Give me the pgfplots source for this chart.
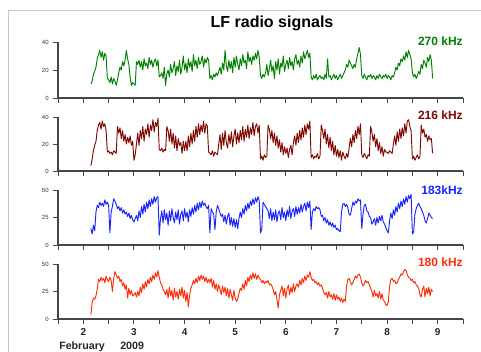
\documentclass[border=0pt]{standalone}
\usepackage{fontspec}
\setmainfont{Liberation Sans}
\usepackage{pgfplots}
\pgfplotsset{compat=1.18}
\usepackage{pgfplotstable}

\definecolor{cgreen}{RGB}{0,128,0}
\definecolor{cmaroon}{RGB}{128,8,0}
\definecolor{cblue}{RGB}{25,35,250}
\definecolor{cred}{RGB}{255,45,10}
\definecolor{axgray}{RGB}{70,70,70}

% 270 kHz
\pgfplotstableread[row sep=\\]{y\\
10\\12\\17\\19\\22\\28\\31\\34\\29\\33\\27\\32\\30\\14\\13\\11\\15\\10\\14\\12\\9\\13\\
18\\22\\20\\26\\23\\27\\34\\28\\24\\15\\9\\11\\10\\9\\26\\24\\
27\\22\\26\\20\\28\\23\\25\\21\\29\\24\\27\\22\\26\\28\\23\\27\\15\\
16\\18\\14\\22\\9\\17\\20\\15\\24\\18\\21\\26\\16\\23\\19\\27\\17\\22\\30\\20\\25\\18\\28\\22\\26\\19\\31\\23\\27\\21\\29\\24\\26\\30\\22\\28\\25\\29\\27\\
14\\16\\13\\17\\15\\18\\16\\
19\\22\\17\\25\\20\\34\\23\\19\\27\\21\\26\\18\\29\\22\\30\\24\\20\\28\\23\\31\\25\\27\\21\\33\\26\\29\\24\\30\\27\\32\\28\\34\\29\\
16\\14\\17\\15\\
18\\24\\16\\21\\27\\19\\23\\14\\26\\20\\28\\17\\25\\22\\30\\19\\24\\27\\21\\29\\23\\26\\20\\28\\31\\24\\27\\22\\30\\25\\33\\28\\31\\34\\29\\32\\
15\\13\\16\\14\\17\\13\\15\\16\\14\\15\\13\\17\\14\\28\\15\\16\\13\\15\\17\\14\\16\\13\\15\\17\\14\\16\\18\\
20\\24\\22\\27\\25\\23\\21\\24\\22\\28\\32\\36\\31\\
16\\14\\17\\15\\13\\16\\15\\17\\14\\16\\15\\13\\16\\14\\17\\15\\14\\16\\15\\17\\14\\16\\15\\13\\16\\15\\
18\\22\\20\\25\\23\\28\\26\\30\\27\\33\\29\\34\\31\\28\\
18\\15\\17\\14\\16\\19\\
17\\24\\21\\27\\25\\22\\29\\26\\31\\27\\14\\
}\greendata

% 216 kHz
\pgfplotstableread[row sep=\\]{y\\
4\\9\\15\\19\\22\\30\\34\\36\\31\\37\\33\\35\\30\\14\\
15\\13\\14\\12\\15\\14\\13\\33\\
28\\32\\24\\30\\22\\27\\20\\25\\21\\26\\19\\22\\8\\12\\
20\\28\\19\\30\\24\\33\\22\\31\\27\\35\\25\\34\\30\\38\\29\\36\\33\\39\\
16\\15\\17\\14\\16\\15\\33\\
30\\22\\31\\20\\28\\17\\26\\15\\24\\19\\21\\13\\22\\15\\
22\\15\\26\\18\\28\\20\\30\\22\\33\\25\\35\\27\\34\\29\\37\\28\\35\\33\\14\\
13\\12\\15\\11\\14\\13\\12\\
20\\27\\16\\28\\19\\30\\21\\17\\27\\20\\29\\18\\26\\31\\20\\28\\21\\30\\23\\33\\22\\31\\25\\34\\24\\32\\27\\36\\26\\33\\35\\28\\34\\
9\\11\\8\\12\\10\\11\\34\\
31\\24\\30\\21\\28\\19\\26\\17\\23\\14\\21\\12\\18\\
13\\17\\10\\16\\19\\12\\21\\
26\\19\\28\\21\\30\\23\\32\\25\\34\\27\\35\\31\\37\\
10\\12\\9\\11\\10\\13\\9\\11\\34\\
30\\24\\31\\20\\27\\17\\25\\15\\22\\12\\19\\11\\16\\10\\15\\8\\14\\11\\9\\13\\10\\
17\\24\\18\\27\\21\\30\\24\\33\\27\\35\\
12\\10\\13\\11\\9\\12\\11\\33\\
29\\22\\27\\18\\24\\15\\21\\13\\18\\11\\16\\14\\
14\\13\\15\\14\\13\\
20\\26\\19\\29\\22\\31\\24\\32\\26\\35\\28\\37\\38\\33\\30\\
9\\11\\8\\10\\12\\9\\11\\34\\
28\\31\\25\\27\\22\\26\\23\\24\\13\\
}\maroondata

% 183 kHz
\pgfplotstableread[row sep=\\]{y\\
15\\10\\18\\13\\30\\36\\34\\39\\36\\38\\35\\41\\37\\39\\36\\11\\30\\35\\42\\
40\\37\\33\\35\\31\\34\\29\\32\\28\\30\\26\\29\\24\\27\\23\\21\\24\\
27\\22\\31\\25\\35\\28\\37\\30\\39\\33\\41\\35\\42\\37\\44\\39\\43\\44\\9\\
24\\31\\20\\32\\23\\29\\18\\31\\22\\33\\25\\20\\30\\23\\32\\19\\28\\31\\22\\33\\25\\30\\21\\32\\26\\34\\28\\36\\30\\38\\32\\39\\34\\40\\36\\
38\\35\\33\\36\\11\\33\\30\\28\\14\\30\\36\\33\\29\\26\\
28\\21\\27\\19\\26\\29\\18\\25\\17\\24\\16\\23\\15\\
24\\30\\25\\33\\28\\36\\31\\38\\33\\40\\36\\42\\37\\43\\39\\44\\40\\
11\\14\\39\\37\\35\\33\\
31\\24\\33\\22\\30\\23\\32\\21\\29\\31\\23\\34\\25\\30\\22\\32\\26\\35\\24\\31\\33\\26\\35\\28\\34\\29\\37\\30\\35\\38\\31\\39\\34\\40\\
14\\30\\33\\31\\35\\33\\34\\
32\\26\\27\\22\\25\\20\\23\\18\\21\\17\\20\\16\\18\\14\\15\\13\\12\\
30\\37\\38\\35\\37\\34\\28\\27\\33\\39\\36\\40\\38\\42\\40\\41\\15\\
28\\36\\37\\31\\30\\26\\25\\19\\21\\24\\18\\25\\20\\26\\22\\27\\21\\19\\16\\13\\11\\
22\\29\\24\\32\\27\\35\\30\\38\\33\\40\\35\\42\\37\\44\\39\\45\\42\\46\\10\\12\\
28\\33\\36\\38\\35\\33\\30\\27\\22\\20\\24\\29\\27\\25\\24\\
}\bluedata

% 180 kHz
\pgfplotstableread[row sep=\\]{y\\
4\\15\\19\\18\\21\\27\\
36\\34\\38\\35\\37\\33\\39\\36\\34\\38\\35\\25\\37\\43\\
40\\37\\39\\34\\36\\30\\33\\27\\31\\19\\28\\22\\26\\21\\22\\24\\20\\
25\\21\\29\\24\\32\\27\\34\\29\\36\\32\\38\\34\\40\\36\\42\\38\\44\\
38\\33\\31\\27\\25\\22\\
27\\19\\29\\21\\26\\17\\28\\20\\25\\18\\27\\21\\29\\19\\26\\16\\24\\11\\22\\28\\
31\\35\\32\\37\\33\\39\\35\\40\\36\\39\\34\\38\\33\\36\\
33\\37\\29\\35\\27\\32\\25\\31\\27\\22\\30\\24\\29\\21\\28\\19\\27\\22\\17\\26\\19\\16\\18\\
23\\28\\26\\32\\27\\35\\30\\38\\34\\40\\36\\42\\37\\41\\36\\40\\37\\
36\\33\\35\\32\\34\\33\\35\\31\\32\\30\\27\\22\\25\\18\\10\\22\\
26\\30\\21\\28\\19\\27\\31\\22\\29\\24\\32\\25\\30\\32\\
29\\35\\31\\37\\33\\39\\35\\40\\38\\43\\
38\\35\\36\\33\\34\\31\\33\\30\\31\\28\\24\\22\\
24\\19\\25\\20\\22\\18\\23\\17\\22\\18\\20\\16\\19\\15\\18\\16\\
30\\36\\37\\34\\31\\33\\36\\39\\37\\40\\41\\38\\
33\\30\\32\\35\\33\\34\\31\\28\\
25\\20\\26\\21\\23\\19\\25\\18\\23\\17\\16\\13\\12\\16\\
30\\36\\37\\34\\35\\32\\33\\36\\38\\41\\40\\43\\45\\44\\
40\\38\\37\\35\\36\\33\\34\\31\\
30\\28\\22\\20\\27\\30\\20\\28\\23\\29\\21\\27\\25\\
}\reddata

\pgfplotsset{panel/.style={
  scale only axis, width=303.75pt,
  xmin=1.5, xmax=9.5, ymin=0,
  axis x line=bottom, axis y line=left,
  axis line style={-, draw=axgray, line width=0.8pt},
  xtick={2,...,9}, minor xtick={1.5,2.5,...,9.5},
  tick align=outside, major tick length=3.5pt, minor tick length=3.5pt,
  every tick/.style={draw=axgray, line width=0.7pt},
  minor tick style={draw=axgray, line width=0.7pt},
  xticklabels={},
  yticklabel style={font=\fontsize{4.5}{5}\selectfont, text=black!80},
  xticklabel style={font=\fontsize{7.5}{9}\selectfont\bfseries, text=black!85},
  /pgf/number format/assume math mode=true,
  anchor=south west, clip=false,
  every axis plot/.style={line width=0.7pt, line join=round},
}}

\begin{document}
\begin{tikzpicture}
\path[use as bounding box] (0pt,0pt) rectangle (360.75pt,-264pt);
\draw[gray!45, line width=0.6pt] (6pt,-264pt) -- (6pt,-7.5pt) -- (360.75pt,-7.5pt);

\begin{axis}[panel, at={(43.5pt,-73.5pt)}, height=42pt, ymax=40, ytick={0,20,40}]
\addplot[cgreen] table[x expr=2.15+0.025*\coordindex, y=y] {\greendata};
\end{axis}

\begin{axis}[panel, at={(43.5pt,-128.25pt)}, height=40.5pt, ymax=40, ytick={0,20,40}]
\addplot[cmaroon] table[x expr=2.15+0.025*\coordindex, y=y] {\maroondata};
\end{axis}

\begin{axis}[panel, at={(43.5pt,-183.75pt)}, height=41.25pt, ymax=50, ytick={0,25,50}]
\addplot[cblue] table[x expr=2.15+0.025*\coordindex, y=y] {\bluedata};
\end{axis}

\begin{axis}[panel, at={(43.5pt,-239.25pt)}, height=41.25pt, ymax=50, ytick={0,25,50},
  xticklabels={2,3,4,5,6,7,8,9}]
\addplot[cred] table[x expr=2.15+0.025*\coordindex, y=y] {\reddata};
\end{axis}

\node[font=\fontsize{12}{14}\selectfont\bfseries] at (204pt,-17.25pt) {LF radio signals};
\node[anchor=east, inner sep=0pt, font=\fontsize{9}{11}\selectfont\bfseries, text=cgreen] at (347.25pt,-30.75pt) {270 kHz};
\node[anchor=east, inner sep=0pt, font=\fontsize{9}{11}\selectfont\bfseries, text=cmaroon] at (347.25pt,-86.25pt) {216 kHz};
\node[anchor=east, inner sep=0pt, font=\fontsize{9}{11}\selectfont\bfseries, text=cblue] at (347.25pt,-142.9pt) {183kHz};
\node[anchor=east, inner sep=0pt, font=\fontsize{9}{11}\selectfont\bfseries, text=cred] at (347.25pt,-196.5pt) {180 kHz};
\node[anchor=base west, inner sep=0pt, font=\fontsize{8}{10}\selectfont\bfseries, text=black!85] at (44.25pt,-261.75pt) {February};
\node[anchor=base west, inner sep=0pt, font=\fontsize{8}{10}\selectfont\bfseries, text=black!85] at (90pt,-261.75pt) {2009};
\end{tikzpicture}
\end{document}
